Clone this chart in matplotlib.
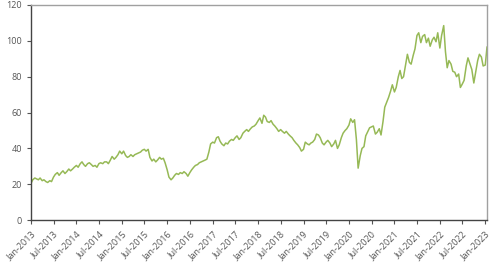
import matplotlib
matplotlib.use("Agg")
import matplotlib.pyplot as plt
import matplotlib.dates as mdates
import pandas as pd

plt.rcParams['font.family'] = ['Open Sans', 'DejaVu Sans']

# semi-monthly readings (1st and 15th of each month)
y2013 = [20.5, 22.5, 23.5, 23, 22.5, 23.5, 22, 22.5, 21.5, 21, 22, 21.5,
         24, 25.5, 26.5, 25, 26.5, 27.5, 26, 27, 28.5, 27.5, 28.5, 29.5]
y2014 = [30.5, 29.5, 31.5, 32.5, 31, 30, 31.5, 32, 31, 30, 30.5, 29.5,
         31.5, 32, 31.5, 32.5, 32.5, 31.5, 33.5, 35.5, 34, 35, 36.5, 38.5]
y2015 = [37, 38.5, 36, 35, 35.5, 36.5, 35.5, 36.5, 37, 37.5, 38, 39,
         39.5, 38.5, 39.5, 35, 33, 34, 32.5, 33.5, 35, 34, 34.5, 32]
y2016 = [28, 24, 22.5, 23.5, 25, 26, 25.5, 26.5, 26, 27, 26, 24.5,
         26.5, 28, 29.5, 30.5, 31, 32, 32.5, 33, 33.5, 34, 38, 42.5]
y2017 = [43.5, 43, 46, 46.5, 44, 42.5, 41.5, 43, 42.5, 44, 45, 44.5,
         46, 47, 45, 46, 48.5, 49.5, 50.5, 49.5, 51, 52, 52.5, 53.5]
y2018 = [55.5, 57, 54, 58.5, 57.5, 55, 54.5, 55.5, 53.5, 52.5, 51, 49.5,
         50.5, 49.5, 48.5, 49.5, 48, 47, 46, 44.5, 43, 42, 40.5, 38.5]
y2019 = [39.5, 43.5, 42.5, 42, 43, 43.5, 45, 48, 47.5, 46, 43, 42,
         43.5, 44.5, 43, 41, 42.5, 44.5, 40, 42, 46, 48.5, 50, 51]
y2020 = [53, 56.5, 54.5, 56, 45, 29, 36, 40, 41, 47, 49.5, 51.5,
         52, 52.5, 48, 49, 51, 47.5, 55, 63, 66, 68.5, 72, 75.5]
y2021 = [71.5, 74, 80, 83.5, 79, 80, 87, 92.5, 88, 87, 92, 95.5,
         103, 104.5, 99, 102.5, 103.5, 99, 101.5, 97, 100.5, 102, 99.5, 104.5]
y2022 = [96, 103, 108.5, 94, 85, 89, 87, 83, 82.5, 80, 81.5, 74,
         76, 78, 86, 90.5, 87, 84, 76.5, 82, 89, 92.5, 91, 86]
y2023 = [86.5, 96.5]

values = y2013 + y2014 + y2015 + y2016 + y2017 + y2018 + y2019 + y2020 + y2021 + y2022 + y2023
dates = pd.date_range("2013-01-01", periods=len(values), freq="SMS")

y_ticks = [0, 20, 40, 60, 80, 100, 120]

fig = plt.figure(figsize=(5, 2.63), dpi=100)
ax = fig.add_axes([0.062, 0.163, 0.912, 0.818])
ax.plot(dates, values, color='#96b956', linewidth=1.1)

ax.set_ylim(0, 120)
ax.set_yticks(y_ticks)
ax.set_xlim(dates[0], dates[-1])
ax.xaxis.set_major_locator(mdates.MonthLocator(bymonth=[1, 7]))
ax.xaxis.set_major_formatter(mdates.DateFormatter('%b-%Y'))
plt.setp(ax.get_xticklabels(), rotation=45, ha='right', rotation_mode='anchor')

ax.tick_params(labelsize=6.5, colors='#555555', length=3, width=0.8)
for side in ['left', 'bottom']:
    ax.spines[side].set_color('#444444')
    ax.spines[side].set_linewidth(1.0)
for side in ['top', 'right']:
    ax.spines[side].set_color('#a0a0a0')
    ax.spines[side].set_linewidth(1.0)

fig.savefig('out.png', dpi=100)
